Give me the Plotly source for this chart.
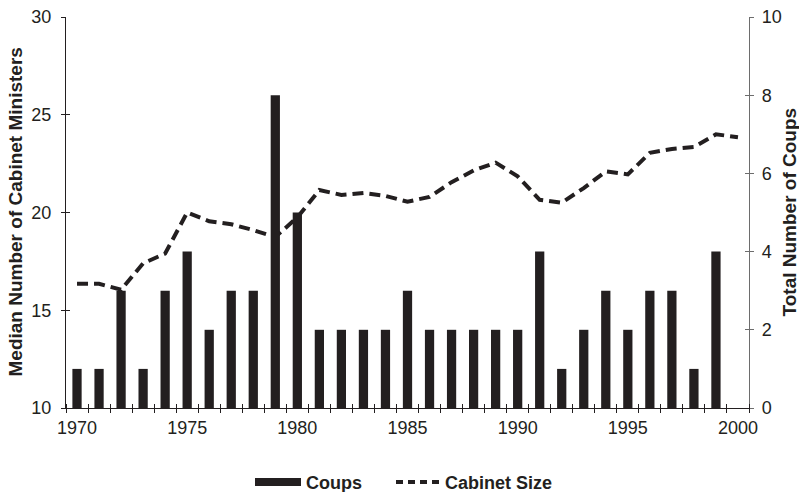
import plotly.graph_objects as go

years = list(range(1970, 2001))
coups = [1, 1, 3, 1, 3, 4, 2, 3, 3, 8, 5, 2, 2, 2, 2, 3, 2, 2, 2, 2, 2, 4, 1, 2, 3, 2, 3, 3, 1, 4, None]
cabinet = [16.35, 16.35, 16.05, 17.4, 17.9, 20.0, 19.55, 19.4, 19.1, 18.75, 19.75, 21.15, 20.9, 21.0, 20.85,
           20.55, 20.8, 21.55, 22.15, 22.55, 21.85, 20.65, 20.5, 21.25, 22.1, 21.95, 23.05, 23.25, 23.35, 24.0, 23.85]
x_ticks = [1970, 1975, 1980, 1985, 1990, 1995, 2000]
left_title = "Median Number of Cabinet Ministers"
right_title = "Total Number of Coups"

INK = "#231f20"
GREY = "#6d6d6d"
FONT = "Liberation Sans, Arial, Helvetica, sans-serif"

fig = go.Figure()
fig.add_trace(go.Bar(x=years, y=coups, width=0.42, marker=dict(color=INK, line=dict(width=0)),
                     yaxis="y2", name="Coups", showlegend=False, legendgroup="c"))
fig.add_trace(go.Scatter(x=years, y=cabinet, mode="lines", line=dict(color=INK, width=4, dash="11px,6px"),
                         name="Cabinet Size", showlegend=False, legendgroup="s"))
# legend entries
fig.add_trace(go.Scatter(x=[None], y=[None], mode="lines", line=dict(color=INK, width=8),
                         name="Coups", legendgroup="c", yaxis="y2", legend="legend"))
fig.add_trace(go.Scatter(x=[None], y=[None], mode="lines", line=dict(color=INK, width=4, dash="7px,5px"),
                         name="Cabinet Size", legendgroup="s", legend="legend2"))

tickfont = dict(family=FONT, size=18, color=INK)
titlefont = dict(family=FONT, size=19, color=INK, weight="bold")
legfont = dict(family=FONT, size=18, color=INK, weight="bold")

fig.update_layout(
    width=799, height=492,
    margin=dict(l=66, r=50, t=17, b=84, autoexpand=False),
    paper_bgcolor="white", plot_bgcolor="white",
    font=dict(family=FONT, color=INK),
    showlegend=True,
    legend=dict(orientation="h", x=(250 - 66) / 683, xanchor="left", y=-0.19, yanchor="middle",
                font=legfont, itemwidth=46, bgcolor="rgba(0,0,0,0)"),
    legend2=dict(orientation="h", x=(391 - 66) / 683, xanchor="left", y=-0.19, yanchor="middle",
                 font=legfont, itemwidth=44, bgcolor="rgba(0,0,0,0)"),
    xaxis=dict(range=[1969.5, 2000.5], tickmode="array", tickvals=x_ticks, ticks="", automargin=False,
               showline=True, linecolor=INK, linewidth=1.3, showgrid=False, zeroline=False,
               tickfont=tickfont, ticklabelstandoff=3,
               minor=dict(ticks="outside", ticklen=4, tickmode="linear", tick0=1969.5, dtick=1,
                          tickcolor=INK, showgrid=False)),
    xaxis2=dict(range=[1969.5, 2000.5], overlaying="x", anchor="y", showticklabels=False, ticks="",
                showline=False, showgrid=False, zeroline=False, tickmode="array", tickvals=x_ticks,
                automargin=False,
                minor=dict(ticks="inside", ticklen=4, tickmode="linear", tick0=1969.5, dtick=1,
                           tickcolor=INK, showgrid=False)),
    yaxis=dict(range=[10, 30], dtick=5, ticks="outside", ticklen=4, tickcolor=INK, automargin=False,
               showline=True, linecolor=INK, linewidth=1.3, showgrid=False, zeroline=False,
               tickfont=tickfont, ticklabelstandoff=6),
    yaxis2=dict(range=[0, 10], dtick=2, ticks="outside", ticklen=4, tickcolor=GREY, automargin=False,
                overlaying="y", side="right", anchor="x",
                showline=True, linecolor=GREY, linewidth=1.3, showgrid=False, zeroline=False,
                tickfont=tickfont, ticklabelstandoff=4),
    yaxis3=dict(range=[10, 30], dtick=5, ticks="inside", ticklen=4, tickcolor=INK, overlaying="y",
                side="left", anchor="x", showticklabels=False, showline=False, showgrid=False,
                zeroline=False, automargin=False),
    yaxis4=dict(range=[0, 10], dtick=2, ticks="inside", ticklen=4, tickcolor=GREY, overlaying="y",
                side="right", anchor="x", showticklabels=False, showline=False, showgrid=False,
                zeroline=False, automargin=False),
    annotations=[
        dict(text=left_title, xref="paper", yref="paper", x=0, y=0.5, xshift=-51, textangle=-90,
             showarrow=False, xanchor="center", yanchor="middle", font=titlefont),
        dict(text=right_title, xref="paper", yref="paper", x=1, y=0.5, xshift=40, textangle=-90,
             showarrow=False, xanchor="center", yanchor="middle", font=titlefont),
    ],
)
# invisible traces to activate the overlay tick axes
fig.add_trace(go.Scatter(x=[None], y=[None], xaxis="x2", yaxis="y3", showlegend=False, hoverinfo="skip"))
fig.add_trace(go.Scatter(x=[None], y=[None], xaxis="x", yaxis="y4", showlegend=False, hoverinfo="skip"))

fig.write_html("out.html", config={"displayModeBar": False},
               post_script="document.body.style.margin='0';")
